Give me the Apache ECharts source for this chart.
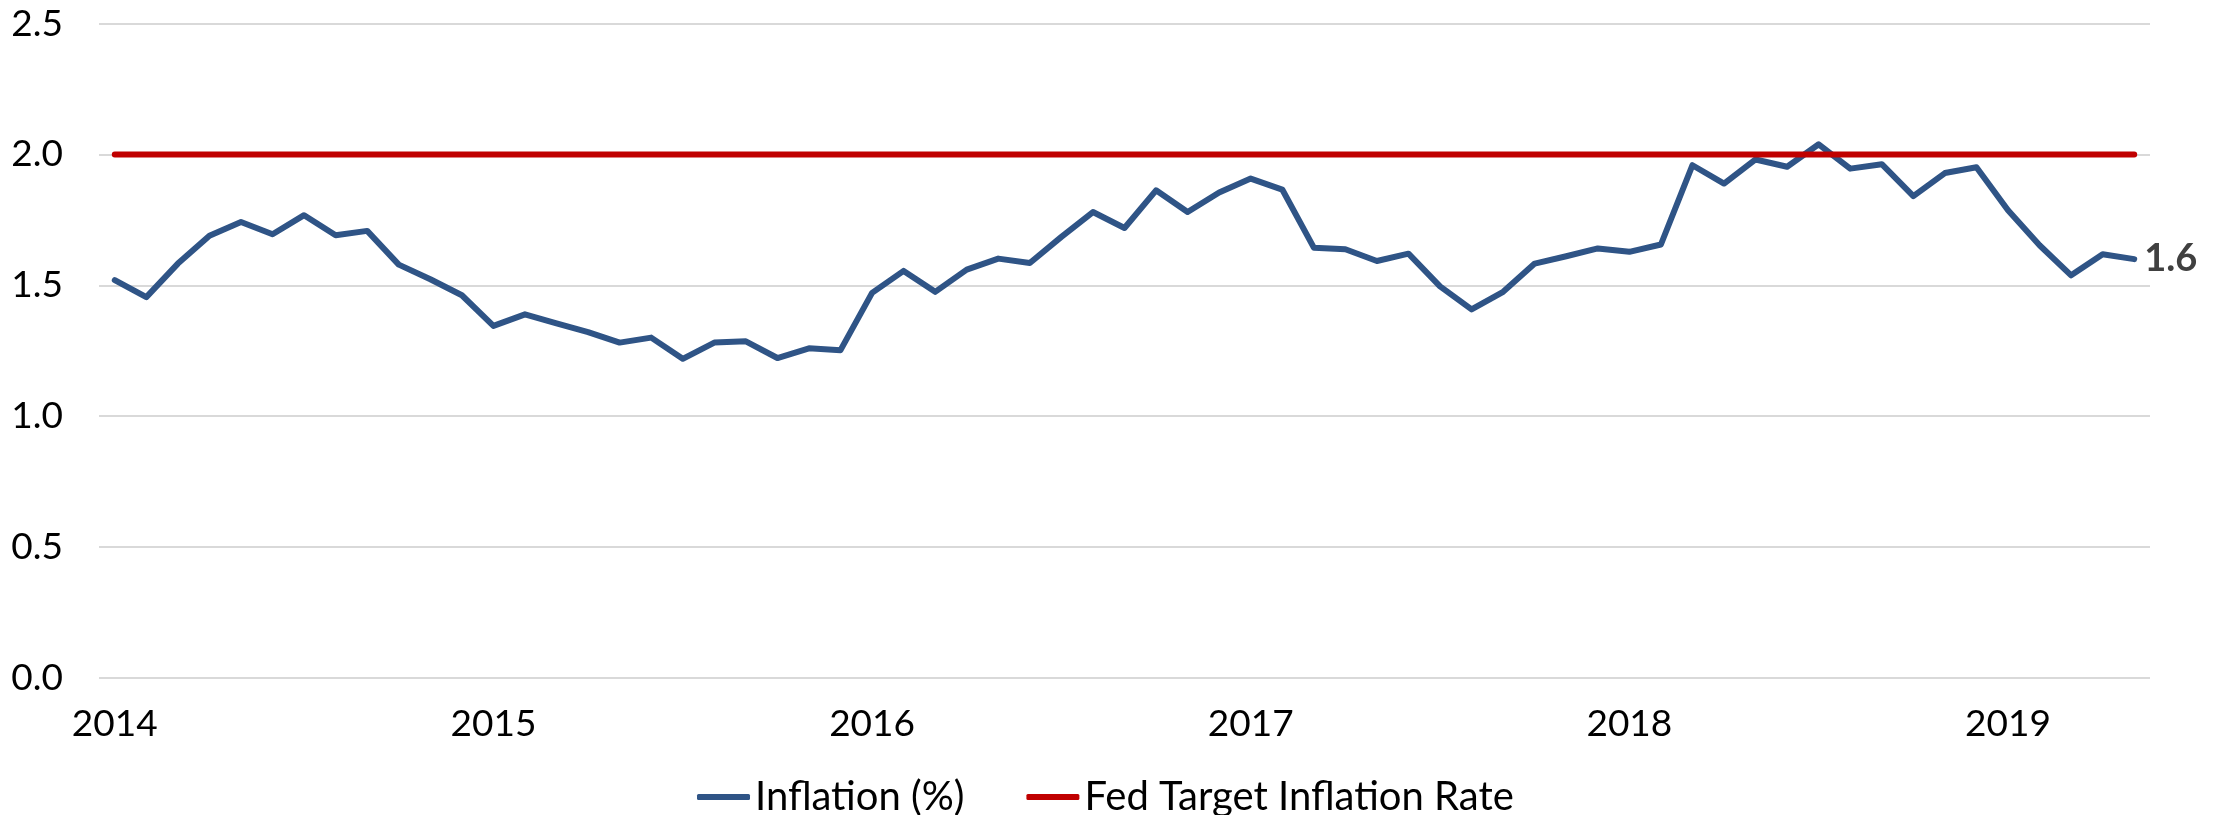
<!DOCTYPE html>
<html>
<head>
<meta charset="utf-8">
<script src="https://cdn.jsdelivr.net/npm/echarts@6/dist/echarts.min.js"></script>
<style>
  html, body { margin: 0; padding: 0; background: #fff; }
  #chart { width: 2222px; height: 815px; }
</style>
</head>
<body>
<div id="chart"></div>
<script>
// monthly inflation, Jan 2014 .. May 2019
const years = ["2014", "2015", "2016", "2017", "2018", "2019"];
const inflation2014 = [1.52, 1.455, 1.583, 1.689, 1.742, 1.695, 1.768, 1.691, 1.708, 1.579, 1.523, 1.462];
const inflation2015 = [1.345, 1.389, 1.354, 1.321, 1.281, 1.300, 1.219, 1.281, 1.286, 1.222, 1.259, 1.252];
const inflation2016 = [1.471, 1.555, 1.475, 1.560, 1.602, 1.585, 1.685, 1.780, 1.719, 1.863, 1.780, 1.855];
const inflation2017 = [1.908, 1.866, 1.644, 1.638, 1.593, 1.621, 1.496, 1.408, 1.475, 1.583, 1.611, 1.641];
const inflation2018 = [1.628, 1.656, 1.959, 1.889, 1.981, 1.953, 2.039, 1.946, 1.963, 1.841, 1.929, 1.951];
const inflation2019 = [1.787, 1.653, 1.538, 1.619, 1.600];
const fedTarget = 2.0;

const inflation = [].concat(inflation2014, inflation2015, inflation2016, inflation2017, inflation2018, inflation2019);
const months = inflation.map((_, i) => `${years[Math.floor(i / 12)]}-${String(i % 12 + 1).padStart(2, "0")}`);
const target = inflation.map(() => fedTarget);

const FONT = "Lato";
const chart = echarts.init(document.getElementById("chart"), null, { renderer: "canvas" });

chart.setOption({
  animation: false,
  backgroundColor: "#fff",
  textStyle: { fontFamily: FONT },
  grid: { left: 99, right: 72, top: 23.7, bottom: 137.3, containLabel: false },
  legend: {
    left: 692,
    top: 772,
    icon: "roundRect",
    itemWidth: 53,
    itemHeight: 6,
    itemGap: 62,
    textStyle: { fontFamily: FONT, fontSize: 40, color: "#000" },
    data: ["Inflation (%)", "Fed Target Inflation Rate"]
  },
  xAxis: {
    type: "category",
    data: months,
    boundaryGap: true,
    axisLine: { show: false },
    axisTick: { show: false },
    splitLine: { show: false },
    axisLabel: {
      interval: 11,
      margin: 28,
      fontFamily: FONT,
      fontSize: 37,
      color: "#000",
      formatter: (v) => v.slice(0, 4)
    }
  },
  yAxis: {
    type: "value",
    min: 0,
    max: 2.5,
    interval: 0.5,
    axisLine: { show: false },
    axisTick: { show: false },
    axisLabel: {
      margin: 36,
      fontFamily: FONT,
      fontSize: 37,
      color: "#000",
      formatter: (v) => v.toFixed(1)
    },
    splitLine: { lineStyle: { color: "#d9d9d9", width: 2 } }
  },
  series: [
    {
      name: "Inflation (%)",
      type: "line",
      data: inflation,
      showSymbol: false,
      color: "#2f5486",
      lineStyle: { width: 6, color: "#2f5486", cap: "round", join: "round" },
      endLabel: {
        show: true,
        distance: 10,
        fontFamily: FONT,
        fontSize: 38,
        fontWeight: "bold",
        color: "#404040",
        formatter: (p) => p.value.toFixed(1)
      }
    },
    {
      name: "Fed Target Inflation Rate",
      type: "line",
      data: target,
      showSymbol: false,
      color: "#c00000",
      lineStyle: { width: 6, color: "#c00000", cap: "round" }
    }
  ]
});
</script>
</body>
</html>
